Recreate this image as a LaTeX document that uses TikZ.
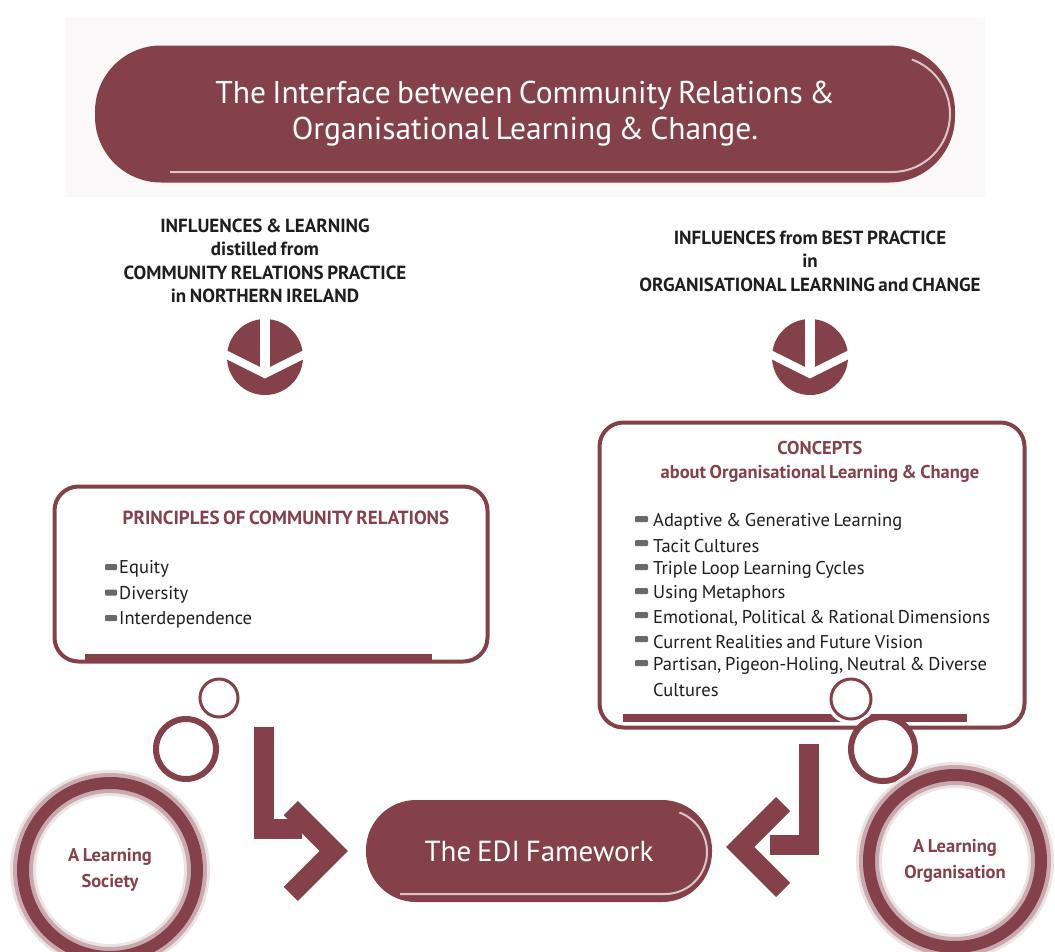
\documentclass[tikz,border=0pt]{standalone}
\usepackage{fontspec}
\setmainfont{PT Sans}[WordSpace=0.75]
\usepackage{tikz}
\usetikzlibrary{positioning}
\definecolor{maroon}{RGB}{132,65,74}
\definecolor{paper}{RGB}{250,248,248}
\definecolor{ink}{RGB}{30,30,30}
\definecolor{pointer}{RGB}{105,105,105}
\tikzstyle{pill}     = [rectangle, rounded corners=50pt, fill=maroon, text=white, align=center, inner sep=0pt]
\tikzstyle{header}   = [align=center, text=ink, font=\bfseries\fontsize{19}{23.5}\selectfont]
\tikzstyle{panel}    = [rectangle, draw=maroon, line width=4pt, rounded corners=24pt, fill=white, inner sep=0pt]
\tikzstyle{heading}  = [align=center, text=maroon, font=\bfseries\fontsize{19}{24}\selectfont]
\tikzstyle{item}     = [anchor=west, text=ink, inner sep=0pt, font=\fontsize{18.5}{22}\selectfont]
\tikzstyle{bubble}   = [circle, draw=maroon, fill=white, inner sep=0pt]
\tikzstyle{elbow}    = [draw=maroon, line width=20pt, line join=miter]
\tikzstyle{ringtext} = [align=center, text=maroon, font=\bfseries\fontsize{18.5}{26}\selectfont]
\tikzset{downsign/.pic={
    \fill[maroon] (0,0) circle (38);
    \fill[white] (-5,-42) rectangle (5,14);
    \draw[white, line width=8pt, line join=miter] (-46,-6) -- (0,17) -- (46,-6);
}}

\begin{document}
\begin{tikzpicture}[x=1pt, y=-1pt]
    \useasboundingbox (0,0) rectangle (1055,951);
    \fill[paper] (65,18) rectangle (985,197);

    % title
    \node[pill, rounded corners=66pt, minimum width=860pt, minimum height=137pt,
          font=\fontsize{31.5}{36}\selectfont](title) at (525,114)
          {The Interface between Community Relations \&\\Organisational Learning \& Change.};
    \draw[white, opacity=.7, line width=2pt] (170,172) -- (892,172) arc[start angle=90, end angle=-70, radius=58];

    % influences
    \node[header](lhead) at (265,261) {INFLUENCES \& LEARNING\\distilled from\\COMMUNITY RELATIONS PRACTICE\\in NORTHERN IRELAND};
    \node[header](rhead) at (810,261) {INFLUENCES from BEST PRACTICE\\in\\ORGANISATIONAL LEARNING and CHANGE};
    \pic at (265,357) {downsign};
    \pic at (810,357) {downsign};

    % principles box
    \node[panel, minimum width=433pt, minimum height=175pt](principles) at (271,574) {};
    \draw[maroon, line width=7pt] (85,657) -- (432,657);
    \node[heading](phead) at (286,518) {PRINCIPLES OF COMMUNITY RELATIONS};
    \foreach \txt [count=\i] in {Equity, Diversity, Interdependence} {
        \pgfmathsetmacro\yy{569+25.5*(\i-1)}
        \fill[pointer, rounded corners=1pt] (105,\yy-5) rectangle (117,\yy+1);
        \node[item](pitem\i) at (119,\yy) {\txt};
    }

    % concepts box
    \node[panel, minimum width=425pt, minimum height=305pt](concepts) at (812,575) {};
    \draw[maroon, line width=8pt] (623,718) -- (967,718);
    \node[heading, font=\bfseries\fontsize{18.5}{24}\selectfont](chead) at (820,462) {CONCEPTS\\about Organisational Learning \& Change};
    \foreach \txt [count=\i] in {Adaptive \& Generative Learning, Tacit Cultures, Triple Loop Learning Cycles,
        Using Metaphors, {Emotional, Political \& Rational Dimensions}, Current Realities and Future Vision,
        {Partisan, Pigeon-Holing, Neutral \& Diverse}} {
        \pgfmathsetmacro\yy{522+24*(\i-1)}
        \fill[pointer, rounded corners=1pt] (635,\yy-6) rectangle (648,\yy);
        \node[item](citem\i) at (653,\yy) {\txt};
    }
    \node[item](citem8) at (653,690) {Cultures};

    % bubbles
    \node[bubble, line width=3pt, minimum size=38pt](lbub1) at (219,698) {};
    \node[bubble, line width=6pt, minimum size=60pt](lbub2) at (186,749) {};
    \node[bubble, line width=3pt, minimum size=40pt, preaction={draw=white, line width=10pt}](rbub1) at (851,699) {};
    \node[bubble, line width=6pt, minimum size=64pt](rbub2) at (883,749) {};

    % learning rings
    \node[ringtext](society) at (110,870) {A Learning\\Society};
    \node[ringtext](organisation) at (955,861) {A Learning\\Organisation};
    \foreach \c/\w in {15/26, 45/20, 100/12} {
        \draw[maroon!\c, line width=\w pt] (society) circle (87);
        \draw[maroon!\c, line width=\w pt] (organisation) circle (86);
    }

    % framework
    \node[pill, minimum width=346pt, minimum height=102pt, font=\fontsize{29}{32}\selectfont](edi) at (539,851) {The EDI Famework};
    \draw[white, opacity=.7, line width=2pt] (400,894) -- (665,894) arc[start angle=90, end angle=-70, radius=42];

    % arrows into the framework
    \coordinate (ltop) at (264,727);
    \coordinate (ltip) at ([xshift=-32pt]edi.west);
    \draw[elbow] (ltop) |- (302,829);
    \draw[elbow] (ltip) ++(-43,-43) -- (ltip) -- ++(-43,43);
    \coordinate (rtop) at (809,744);
    \coordinate (rtip) at ([xshift=28pt, yshift=4pt]edi.east);
    \draw[elbow] (rtop) |- (770,845);
    \draw[elbow] (rtip) ++(43,-43) -- (rtip) -- ++(43,43);
\end{tikzpicture}
\end{document}
